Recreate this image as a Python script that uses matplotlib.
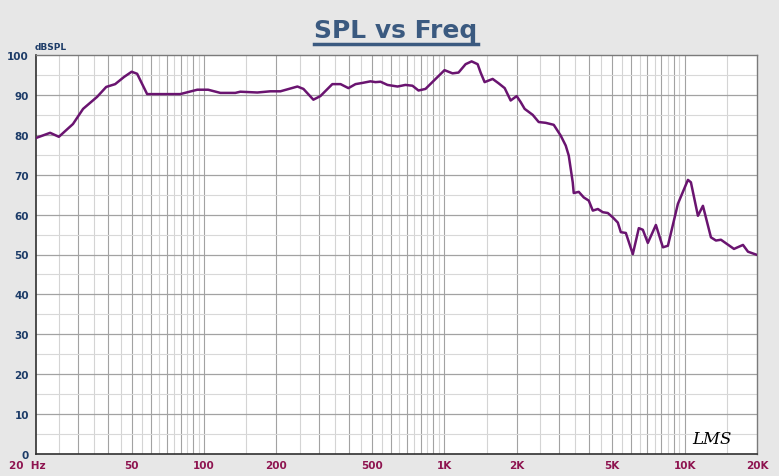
import numpy as np
import matplotlib
matplotlib.use("Agg")
import matplotlib.pyplot as plt
from matplotlib.lines import Line2D

# frequency response
freq = [20, 22.9, 24.9, 28.5, 31.4, 35.9, 39.2, 42.7, 46.5, 50, 52.7, 58, 79.6, 93.8,
        104, 117, 135, 141.6, 166.7, 188.8, 208, 244.8, 259.3, 285.2, 305, 342, 370,
        399, 427, 456, 493, 517, 543, 580, 639, 689, 737, 781, 835, 902, 1002, 1082,
        1146, 1226, 1299, 1376, 1416, 1471, 1589, 1683, 1783, 1888, 2000, 2078, 2159,
        2332, 2470, 2642, 2853, 3050, 3200, 3294, 3422, 3455, 3626, 3804, 3991, 4148,
        4353, 4566, 4789, 5024, 5271, 5425, 5692, 6086, 6446, 6699, 7027, 7592, 8119,
        8518, 9373, 10318, 10617, 11356, 11914, 12864, 13496, 14158, 16042, 17487,
        18347, 20000]
spl = [79.2, 80.5, 79.5, 82.7, 86.5, 89.5, 92.0, 92.7, 94.5, 95.8, 95.3, 90.2, 90.2, 91.3,
       91.3, 90.5, 90.5, 90.8, 90.6, 90.9, 90.9, 92.1, 91.5, 88.8, 89.7, 92.7, 92.7,
       91.7, 92.7, 93.0, 93.4, 93.2, 93.3, 92.5, 92.1, 92.5, 92.3, 91.1, 91.5, 93.5, 96.2, 95.4,
       95.6, 97.7, 98.4, 97.7, 95.6, 93.2, 94.0, 92.9, 91.7, 88.6, 89.7, 88.2, 86.5,
       85.0, 83.2, 83.0, 82.5, 79.8, 77.3, 74.8, 68.1, 65.4, 65.7, 64.3, 63.5, 61.0,
       61.4, 60.6, 60.4, 59.3, 58.0, 55.6, 55.4, 50.1, 56.6, 56.2, 52.9, 57.4, 51.8,
       52.2, 62.7, 68.7, 68.1, 59.7, 62.2, 54.3, 53.5, 53.7, 51.4, 52.4,
       50.7, 49.9]

xtick_vals = [20, 50, 100, 200, 500, 1000, 2000, 5000, 10000, 20000]
xtick_text = ["20  Hz", "50", "100", "200", "500", "1K", "2K", "5K", "10K", "20K"]
ytick_vals = [0, 10, 20, 30, 40, 50, 60, 70, 80, 90, 100]

bg = "#e7e7e7"
navy = "#1d3c68"
maroon = "#8e1450"

fig = plt.figure(figsize=(7.79, 4.77), dpi=100, facecolor=bg)
ax = fig.add_axes([36 / 779, 1 - 455 / 477, 721 / 779, 399 / 477])
ax.set_facecolor("white")
ax.set_xscale("log")
ax.set_xlim(20, 20000)
ax.set_ylim(0, 100)

# grid: integer multiples darker, half steps lighter
for dec in [10, 100, 1000, 10000]:
    for m in np.arange(1, 10, 0.5):
        f = dec * m
        if f <= 20 or f >= 20000:
            continue
        if m == int(m):
            ax.axvline(f, color="#a2a2a2", lw=0.8, zorder=1)
        else:
            ax.axvline(f, color="#d4d4d4", lw=0.8, zorder=1)
for y in range(5, 100, 5):
    if y % 10 == 0:
        ax.axhline(y, color="#a2a2a2", lw=0.9, zorder=1)
    else:
        ax.axhline(y, color="#d8d8d8", lw=0.8, zorder=1)

ax.plot(freq, spl, color="#6a1470", lw=1.8, zorder=3, solid_joinstyle="round")

ax.set_xticks([])
ax.set_xticks([], minor=True)
ax.set_yticks(ytick_vals)
ax.set_yticklabels([str(v) for v in ytick_vals], color=navy, fontsize=7.5, fontweight="bold")
ax.tick_params(axis="y", length=0, pad=5)
for f, t in zip(xtick_vals, xtick_text):
    ha = "left" if f == 20 else "center"
    xx = 15.5 if f == 20 else f
    ax.text(xx, -1.5, t, ha=ha, va="top", color=maroon, fontsize=7.5, fontweight="bold")

for s in ["left", "bottom"]:
    ax.spines[s].set_color("#303030")
    ax.spines[s].set_linewidth(1.2)
for s in ["top", "right"]:
    ax.spines[s].set_color("#7a7a7a")
    ax.spines[s].set_linewidth(1.0)

ax.text(35 / 779, 1 - 47 / 477, "dBSPL", transform=fig.transFigure, color=navy,
        fontsize=6.5, fontweight="bold", ha="left", va="center")
ax.text(13000, 4, "LMS", color="black", fontsize=12, fontstyle="italic",
        fontfamily="DejaVu Serif", ha="center", va="center")

title = fig.text(396 / 779, 1 - 31 / 477, "SPL vs Freq", ha="center", va="center",
                 color="#3b5a80", fontsize=18, fontweight="bold")
fig.canvas.draw()
bb = title.get_window_extent().transformed(fig.transFigure.inverted())
fig.add_artist(Line2D([bb.x0, bb.x1], [bb.y0 - 0.004, bb.y0 - 0.004],
                      transform=fig.transFigure, color="#3b5a80", lw=2.5))

fig.savefig("out.png", dpi=100, facecolor=bg)
